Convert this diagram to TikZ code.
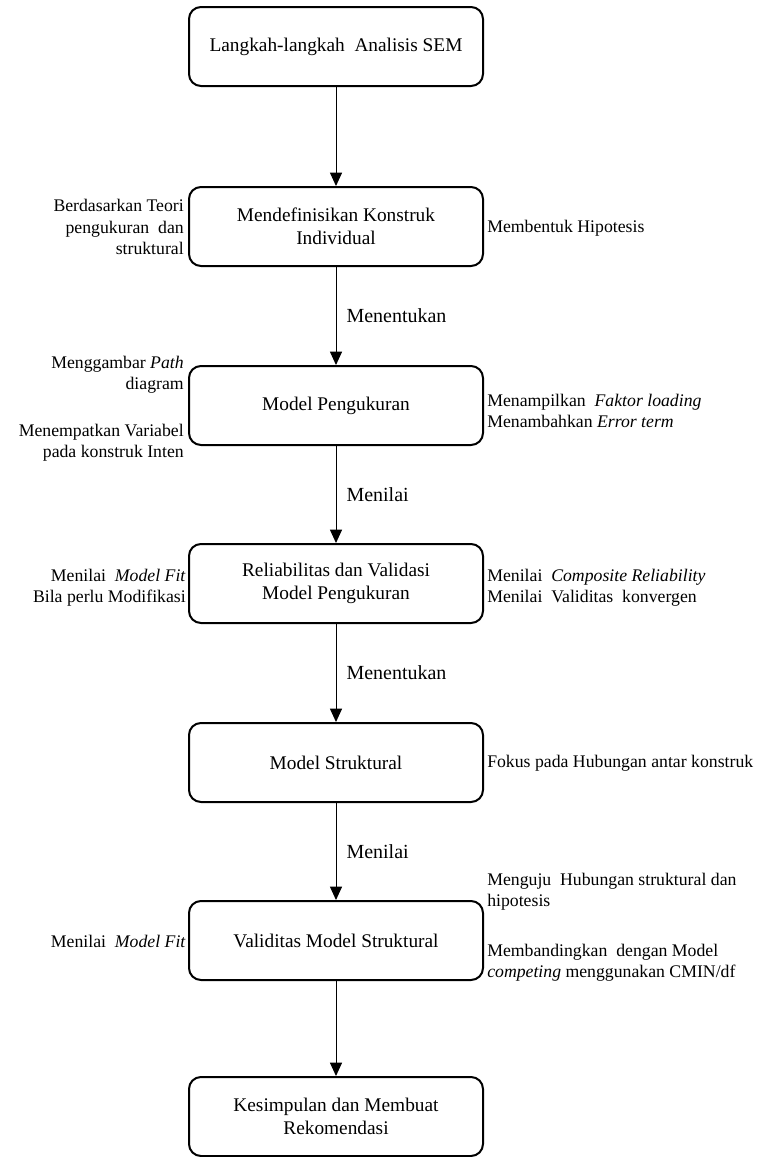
\documentclass[tikz,border=0pt]{standalone}
\usepackage{fontspec}
\setmainfont{Liberation Serif}
\usetikzlibrary{arrows.meta}

\begin{document}
\begin{tikzpicture}[x=0.75pt,y=-0.75pt,
  stepbox/.style={draw, line width=1.5pt, rounded corners=9pt,
    minimum width=220.5pt, minimum height=59.25pt, align=center,
    inner sep=2pt, font=\fontsize{14.5}{17.5}\selectfont},
  flow/.style={line width=0.75pt, -{Triangle[length=10pt,width=9pt]}},
  flowlabel/.style={anchor=west, xshift=7.5pt, inner sep=0pt,
    font=\fontsize{15}{18}\selectfont},
  lnote/.style={anchor=east, align=right, inner sep=0pt,
    font=\fontsize{13.3}{16}\selectfont},
  rnote/.style={anchor=west, align=left, inner sep=0pt,
    font=\fontsize{13.3}{16}\selectfont}]

\useasboundingbox (0,0) rectangle (760,1157);

% main steps
\node[stepbox] (b1) at (336,46.5)  {Langkah-langkah\ \ Analisis SEM};
\node[stepbox] (b2) at (336,226.5) {Mendefinisikan Konstruk\\Individual};
\node[stepbox] (b3) at (336,405.5) {Model Pengukuran};
\node[stepbox] (b4) at (336,583.5) {Reliabilitas dan Validasi\\Model Pengukuran};
\node[stepbox] (b5) at (336,762.5) {Model Struktural};
\node[stepbox] (b6) at (336,940.5) {Validitas Model Struktural};
\node[stepbox] (b7) at (336,1116.5) {Kesimpulan dan Membuat\\Rekomendasi};

% connectors
\draw[flow] (b1) -- (b2);
\draw[flow] (b2) -- node[flowlabel] {Menentukan} (b3);
\draw[flow] (b3) -- node[flowlabel] {Menilai} (b4);
\draw[flow] (b4) -- node[flowlabel] {Menentukan} (b5);
\draw[flow] (b5) -- node[flowlabel] {Menilai} (b6);
\draw[flow] (b6) -- (b7);

% notes beside the steps
\node[lnote] (n2l) at (184,227) {Berdasarkan Teori\\pengukuran\ \ dan\\struktural};
\node[rnote] (n2r) at (487,228) {Membentuk Hipotesis};

\node[lnote] (n3la) at (184,375) {Menggambar \textit{Path}\\diagram};
\node[lnote] (n3lb) at (184,443) {Menempatkan Variabel\\pada konstruk Inten};
\node[rnote] (n3r) at (487,411) {Menampilkan\ \ \textit{Faktor loading}\\Menambahkan \textit{Error term}};

\node[lnote] (n4l) at (186,588) {Menilai\ \ \textit{Model Fit}\\Bila perlu Modifikasi};
\node[rnote] (n4r) at (487,588) {Menilai\ \ \textit{Composite Reliability}\\Menilai\ \ Validitas\ \ konvergen};

\node[rnote] (n5r) at (487,763) {Fokus pada Hubungan antar konstruk};

\node[lnote] (n6l) at (186,941) {Menilai\ \ \textit{Model Fit}};
\node[rnote] (n6ra) at (487,892) {Menguju\ \ Hubungan struktural dan\\hipotesis};
\node[rnote] (n6rb) at (487,963) {Membandingkan\ \ dengan Model\\\textit{competing} menggunakan CMIN/df};
\end{tikzpicture}
\end{document}
